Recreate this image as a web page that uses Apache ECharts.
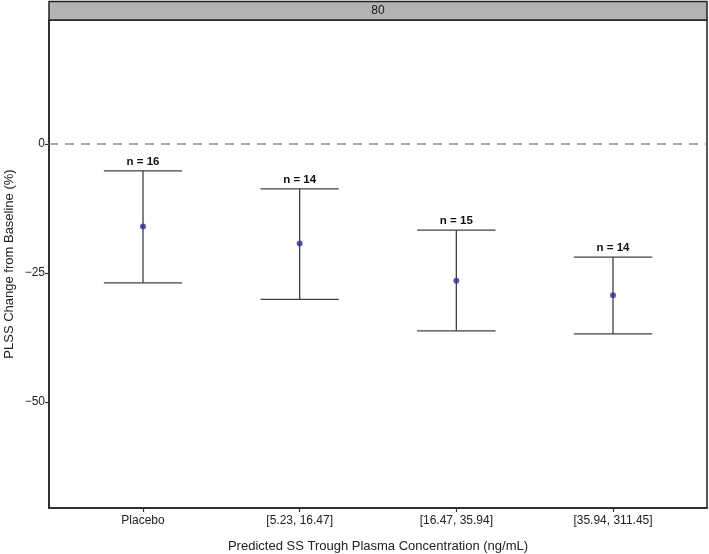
<!DOCTYPE html>
<html>
<head>
<meta charset="utf-8">
<script src="https://cdn.jsdelivr.net/npm/echarts@6/dist/echarts.min.js"></script>
<style>
html,body{margin:0;padding:0;background:#fff;}
#chart{width:709px;height:554px;}
</style>
</head>
<body>
<div id="chart"></div>
<script>
// ---- data ----
var categories = ['Placebo', '[5.23, 16.47]', '[16.47, 35.94]', '[35.94, 311.45]'];
var meanValues = [-16.0, -19.3, -26.5, -29.3];
var lowerValues = [-26.9, -30.1, -36.2, -36.8];
var upperValues = [-5.2, -8.7, -16.7, -21.9];
var nValues = [16, 14, 15, 14];
var yTicks = [-50, -25, 0];
var panelLabel = '80';

var FONT = '"Liberation Sans", Arial, sans-serif';
var xPos = categories.map(function (c, i) { return i + 1; });

var errData = categories.map(function (c, i) {
  return [xPos[i], lowerValues[i], upperValues[i], nValues[i]];
});
var meanData = categories.map(function (c, i) { return [xPos[i], meanValues[i]]; });

var chart = echarts.init(document.getElementById('chart'), null, { renderer: 'canvas' });

var gridLeft = 49, gridRight = 2, gridTop = 20, gridBottom = 46;
var stripCenter = (gridLeft + 709 - gridRight) / 2;

chart.setOption({
  animation: false,
  backgroundColor: '#ffffff',
  grid: { left: gridLeft, right: gridRight, top: gridTop, bottom: gridBottom, containLabel: false,
          outerBoundsMode: 'none',
          show: true, borderColor: '#222', borderWidth: 1.5, backgroundColor: '#fff' },
  graphic: [
    { type: 'rect', x: gridLeft, y: 1.5, shape: { width: 709 - gridLeft - gridRight, height: gridTop - 1.5 },
      style: { fill: '#b3b3b3', stroke: '#222', lineWidth: 1.5 }, z: 10 },
    { type: 'text', x: stripCenter, y: 11, z: 11,
      style: { text: panelLabel, fill: '#1a1a1a', font: '12px ' + FONT, textAlign: 'center', textVerticalAlign: 'middle' } }
  ],
  xAxis: {
    type: 'value', min: 0.4, max: 4.6,
    splitLine: { show: false },
    axisLine: { show: true, onZero: false, lineStyle: { color: '#222', width: 1.5 } },
    axisTick: { show: true, length: 4, customValues: xPos, lineStyle: { color: '#333', width: 1.2 } },
    axisLabel: { show: true, customValues: xPos, color: '#222', fontSize: 12, fontFamily: FONT, margin: 7,
      formatter: function (v) { return categories[Math.round(v) - 1] || ''; } },
    name: 'Predicted SS Trough Plasma Concentration (ng/mL)',
    nameLocation: 'middle', nameGap: 32,
    nameTextStyle: { color: '#222', fontSize: 13, fontFamily: FONT }
  },
  yAxis: {
    type: 'value', min: -70.5, max: 24,
    splitLine: { show: false },
    axisLine: { show: true, onZero: false, lineStyle: { color: '#222', width: 1.5 } },
    axisTick: { show: true, length: 4, customValues: yTicks, lineStyle: { color: '#333', width: 1.2 } },
    axisLabel: { show: true, customValues: yTicks, color: '#222', fontSize: 12, fontFamily: FONT, margin: 4,
      formatter: function (v) { return v < 0 ? '\u2212' + Math.abs(v) : String(v); } },
    name: 'PLSS Change from Baseline (%)',
    nameLocation: 'middle', nameGap: 33, nameMoveOverlap: false,
    nameTextStyle: { color: '#222', fontSize: 13, fontFamily: FONT }
  },
  series: [
    {
      type: 'line', data: [], silent: true,
      markLine: {
        silent: true, symbol: 'none', label: { show: false },
        lineStyle: { color: '#8c8c8c', type: [9, 7], width: 1.5 },
        data: [{ yAxis: 0 }]
      }
    },
    {
      type: 'custom',
      data: errData,
      encode: { x: 0, y: [1, 2] },
      renderItem: function (params, api) {
        var x = api.value(0);
        var lo = api.value(1), hi = api.value(2), n = api.value(3);
        var pLo = api.coord([x, lo]);
        var pHi = api.coord([x, hi]);
        var pL = api.coord([x - 0.25, hi]);
        var pR = api.coord([x + 0.25, hi]);
        var hw = (pR[0] - pL[0]) / 2;
        var style = { stroke: '#404040', lineWidth: 1.3 };
        return {
          type: 'group',
          children: [
            { type: 'line', shape: { x1: pLo[0], y1: pLo[1], x2: pHi[0], y2: pHi[1] }, style: style },
            { type: 'line', shape: { x1: pHi[0] - hw, y1: pHi[1], x2: pHi[0] + hw, y2: pHi[1] }, style: style },
            { type: 'line', shape: { x1: pLo[0] - hw, y1: pLo[1], x2: pLo[0] + hw, y2: pLo[1] }, style: style },
            { type: 'text', x: pHi[0], y: pHi[1] - 3,
              style: { text: 'n = ' + n, fill: '#111', font: 'bold 11.5px ' + FONT, textAlign: 'center', textVerticalAlign: 'bottom' } }
          ]
        };
      },
      z: 3
    },
    {
      type: 'scatter', data: meanData, symbol: 'circle', symbolSize: 6,
      itemStyle: { color: '#2e2e9a' }, z: 5
    }
  ]
});
</script>
</body>
</html>
